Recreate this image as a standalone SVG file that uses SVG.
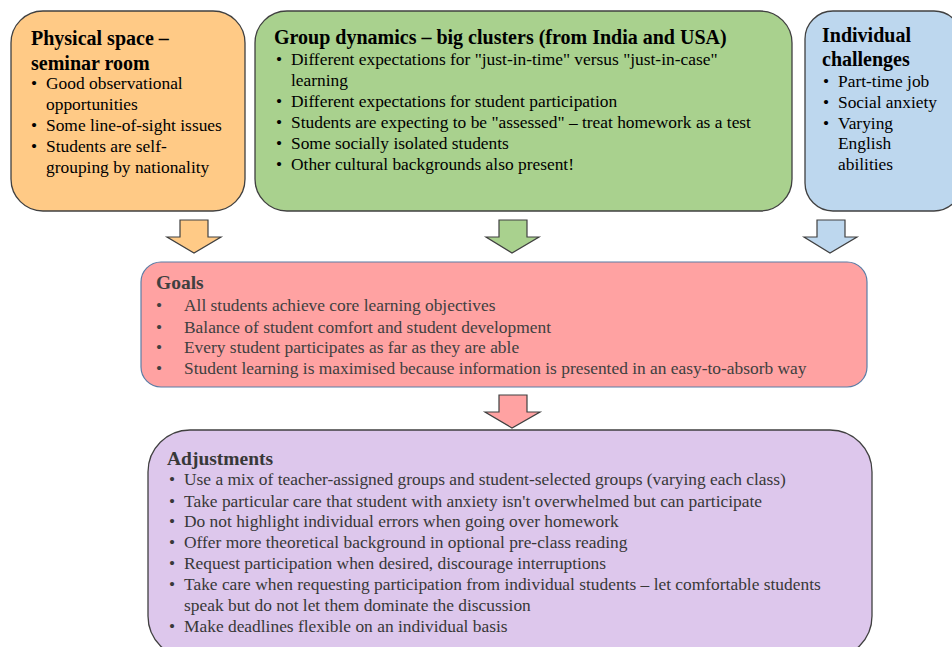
<svg xmlns="http://www.w3.org/2000/svg" width="952" height="647" viewBox="0 0 952 647">
<style>
.t{font-size:20px;font-weight:bold}
.h{font-size:19.5px;font-weight:bold}
.b{font-size:17.4px}
.box{stroke:#404040;stroke-width:1.3}
.arr{stroke:#404040;stroke-width:1.2}
</style>
<rect width="952" height="647" fill="#fff"/>
<g font-family="'Liberation Serif', 'Times New Roman', serif" fill="#000">
<g id="physical">
<rect class="box" x="11" y="11" width="234" height="200" rx="32" fill="#FFCA86"/>
<text class="t" x="31" y="45">Physical space –</text>
<text class="t" x="31" y="70">seminar room</text>
<g class="b">
<text x="31" y="89">•</text><text x="46" y="89">Good observational</text>
<text x="46" y="110">opportunities</text>
<text x="31" y="131">•</text><text x="46" y="131">Some line-of-sight issues</text>
<text x="31" y="152">•</text><text x="46" y="152">Students are self-</text>
<text x="46" y="173">grouping by nationality</text>
</g>
</g>
<g id="group">
<rect class="box" x="255" y="11" width="537" height="200" rx="32" fill="#A9D18E"/>
<text class="t" x="274" y="44">Group dynamics – big clusters (from India and USA)</text>
<g class="b">
<text x="276" y="65">•</text><text x="291" y="65">Different expectations for "just-in-time" versus "just-in-case"</text>
<text x="291" y="86">learning</text>
<text x="276" y="107">•</text><text x="291" y="107">Different expectations for student participation</text>
<text x="276" y="128">•</text><text x="291" y="128">Students are expecting to be "assessed" – treat homework as a test</text>
<text x="276" y="149">•</text><text x="291" y="149">Some socially isolated students</text>
<text x="276" y="170">•</text><text x="291" y="170">Other cultural backgrounds also present!</text>
</g>
</g>
<g id="individual">
<rect class="box" x="805" y="11" width="157" height="200" rx="28" fill="#BDD7EE"/>
<text class="t" x="822" y="42">Individual</text>
<text class="t" x="822" y="66">challenges</text>
<g class="b">
<text x="823" y="87">•</text><text x="838" y="87">Part-time job</text>
<text x="823" y="108">•</text><text x="838" y="108">Social anxiety</text>
<text x="823" y="129">•</text><text x="838" y="129">Varying</text>
<text x="838" y="149">English</text>
<text x="838" y="170">abilities</text>
</g>
</g>
<g id="connectors">
<path class="arr" d="M180,220 H208 V237 H221 L194,253 L167,237 H180 Z" fill="#FFCA86"/>
<path class="arr" d="M499,220 H527 V237 H539 L512,253 L486,237 H499 Z" fill="#A9D18E"/>
<path class="arr" d="M817,220 H845 V237 H857 L830,253 L804,237 H817 Z" fill="#BDD7EE"/>
<path class="arr" d="M499,395 H527 V412 H540 L512,428 L485,412 H499 Z" fill="#FFA2A2"/>
</g>
<g id="goals" fill="#404040">
<rect x="141" y="262" width="726" height="125" rx="20" fill="#FFA2A2" stroke="#5A7DA6" stroke-width="1.2"/>
<text class="h" x="156" y="289">Goals</text>
<g class="b">
<text x="156" y="311">•</text><text x="184" y="311">All students achieve core learning objectives</text>
<text x="156" y="333">•</text><text x="184" y="333">Balance of student comfort and student development</text>
<text x="156" y="353">•</text><text x="184" y="353">Every student participates as far as they are able</text>
<text x="156" y="374">•</text><text x="184" y="374">Student learning is maximised because information is presented in an easy-to-absorb way</text>
</g>
</g>
<g id="adjustments" fill="#383838">
<rect class="box" x="148" y="430" width="724" height="228" rx="42" fill="#DDC7EC"/>
<text class="h" x="167" y="465">Adjustments</text>
<g class="b">
<text x="169" y="485">•</text><text x="184" y="485">Use a mix of teacher-assigned groups and student-selected groups (varying each class)</text>
<text x="169" y="507">•</text><text x="184" y="507">Take particular care that student with anxiety isn't overwhelmed but can participate</text>
<text x="169" y="527">•</text><text x="184" y="527">Do not highlight individual errors when going over homework</text>
<text x="169" y="548">•</text><text x="184" y="548">Offer more theoretical background in optional pre-class reading</text>
<text x="169" y="569">•</text><text x="184" y="569">Request participation when desired, discourage interruptions</text>
<text x="169" y="590">•</text><text x="184" y="590">Take care when requesting participation from individual students – let comfortable students</text>
<text x="184" y="611">speak but do not let them dominate the discussion</text>
<text x="169" y="632">•</text><text x="184" y="632">Make deadlines flexible on an individual basis</text>
</g>
</g>
</g>
</svg>
